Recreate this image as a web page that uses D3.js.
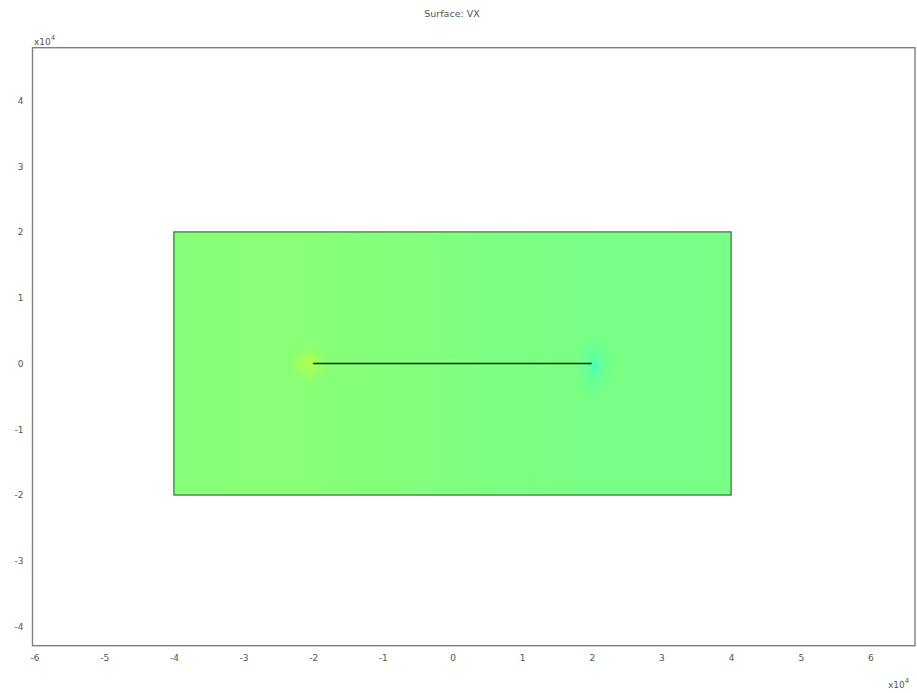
<!DOCTYPE html>
<html>
<head>
<meta charset="utf-8">
<script src="https://cdn.jsdelivr.net/npm/d3@7"></script>
<style>
  html, body { margin: 0; padding: 0; background: #fff; }
  svg { display: block; font-family: "DejaVu Sans", Verdana, sans-serif; }
</style>
</head>
<body>
<svg id="chart" width="917" height="693"></svg>
<script>
// Domaine du tracé (m)
const xDomain = [-60300, 66400];
const yDomain = [-42900, 48000];
const xTicks = [-6, -5, -4, -3, -2, -1, 0, 1, 2, 3, 4, 5, 6];
const yTicks = [-4, -3, -2, -1, 0, 1, 2, 3, 4];

// Géométrie : bloc rectangulaire et fissure
const blockX = [-40000, 40000];
const blockY = [-20000, 20000];
const crackX = [-20000, 20000];
const crackY = [0, 0];

// Valeurs VX normalisées (0..1 sur l'échelle jet), lues le long de x
const fieldX = [-40000, -30000, -20000, -10000, 0, 10000, 20000, 30000, 40000];
const fieldV = [0.507, 0.508, 0.508, 0.504, 0.5, 0.497, 0.494, 0.494, 0.495];

// Concentrations aux pointes de fissure
const tipX = [-20600, 20400];
const tipY = [0, -400];
const tipV = [0.56, 0.445];
const tipRx = [3300, 3000];
const tipRy = [3600, 5200];

const margin = { left: 32.5, right: 2, top: 47.7, bottom: 47.3 };
const W = 917, H = 693;

const svg = d3.select('#chart');
const x = d3.scaleLinear().domain(xDomain).range([margin.left, W - margin.right]);
const y = d3.scaleLinear().domain(yDomain).range([H - margin.bottom, margin.top]);

// Palette jet
const jet = d3.scaleLinear()
  .domain([0, 0.125, 0.375, 0.625, 0.875, 1])
  .range(['#000080', '#0000ff', '#00ffff', '#ffff00', '#ff0000', '#800000'])
  .interpolate(d3.interpolateRgb)
  .clamp(true);

const defs = svg.append('defs');

// Dégradé horizontal du champ
const lg = defs.append('linearGradient')
  .attr('id', 'field')
  .attr('gradientUnits', 'userSpaceOnUse')
  .attr('x1', x(blockX[0])).attr('x2', x(blockX[1]))
  .attr('y1', 0).attr('y2', 0);
lg.selectAll('stop')
  .data(fieldX.map((d, i) => ({ x: d, v: fieldV[i] })))
  .join('stop')
  .attr('offset', d => (d.x - blockX[0]) / (blockX[1] - blockX[0]))
  .attr('stop-color', d => jet(d.v));

const tips = tipX.map((d, i) => ({ x: d, y: tipY[i], v: tipV[i], rx: tipRx[i], ry: tipRy[i], i }));

tips.forEach(t => {
  const rg = defs.append('radialGradient').attr('id', 'tip' + t.i);
  rg.append('stop').attr('offset', 0).attr('stop-color', jet(t.v)).attr('stop-opacity', 0.9);
  rg.append('stop').attr('offset', 0.25).attr('stop-color', jet(t.v)).attr('stop-opacity', 0.5);
  rg.append('stop').attr('offset', 0.6).attr('stop-color', jet(t.v)).attr('stop-opacity', 0.16);
  rg.append('stop').attr('offset', 1).attr('stop-color', jet(t.v)).attr('stop-opacity', 0);
});

defs.append('clipPath').attr('id', 'blockClip')
  .append('rect')
  .attr('x', x(blockX[0])).attr('y', y(blockY[1]))
  .attr('width', x(blockX[1]) - x(blockX[0]))
  .attr('height', y(blockY[0]) - y(blockY[1]));

// Surface
const surf = svg.append('g').attr('clip-path', 'url(#blockClip)');
surf.append('rect')
  .attr('x', x(blockX[0])).attr('y', y(blockY[1]))
  .attr('width', x(blockX[1]) - x(blockX[0]))
  .attr('height', y(blockY[0]) - y(blockY[1]))
  .attr('fill', 'url(#field)');

surf.selectAll('ellipse.tip')
  .data(tips)
  .join('ellipse')
  .attr('class', 'tip')
  .attr('cx', d => x(d.x))
  .attr('cy', d => y(d.y))
  .attr('rx', d => x(d.rx) - x(0))
  .attr('ry', d => y(0) - y(d.ry))
  .attr('fill', d => 'url(#tip' + d.i + ')');

// Bord du bloc
svg.append('rect')
  .attr('x', x(blockX[0])).attr('y', y(blockY[1]))
  .attr('width', x(blockX[1]) - x(blockX[0]))
  .attr('height', y(blockY[0]) - y(blockY[1]))
  .attr('fill', 'none')
  .attr('stroke', '#3a6e3a')
  .attr('stroke-width', 1.2);

// Fissure
svg.append('line')
  .attr('x1', x(crackX[0])).attr('y1', y(crackY[0]))
  .attr('x2', x(crackX[1])).attr('y2', y(crackY[1]))
  .attr('stroke', '#0a2a0a')
  .attr('stroke-width', 1.6);

// Cadre des axes
svg.append('rect')
  .attr('x', margin.left).attr('y', margin.top)
  .attr('width', W - margin.right - margin.left)
  .attr('height', H - margin.bottom - margin.top)
  .attr('fill', 'none')
  .attr('stroke', '#808080')
  .attr('stroke-width', 1.4);

// Axes (étiquettes seulement)
const fmt = d => d3.format('d')(d / 1e4).replace('\u2212', '-');
const xAxis = d3.axisBottom(x)
  .tickValues(xTicks.map(d => d * 1e4))
  .tickFormat(fmt)
  .tickSize(0).tickPadding(9);
const yAxis = d3.axisLeft(y)
  .tickValues(yTicks.map(d => d * 1e4))
  .tickFormat(fmt)
  .tickSize(0).tickPadding(9);

svg.append('g').attr('transform', `translate(0,${H - margin.bottom})`).call(xAxis)
  .call(g => g.select('.domain').remove())
  .selectAll('text').attr('font-size', 9).attr('fill', '#555').attr('font-family', '"DejaVu Sans", sans-serif');
svg.append('g').attr('transform', `translate(${margin.left},0)`).call(yAxis)
  .call(g => g.select('.domain').remove())
  .selectAll('text').attr('font-size', 9).attr('fill', '#555').attr('font-family', '"DejaVu Sans", sans-serif');

// Facteurs d'échelle x10^4
function expLabel(px, py) {
  const t = svg.append('text').attr('x', px).attr('y', py)
    .attr('font-size', 9).attr('fill', '#555');
  t.append('tspan').text('x10');
  t.append('tspan').attr('dy', -5).attr('font-size', 7).text('4');
}
expLabel(34, 45);
expLabel(888, 688);

// Titre
svg.append('text')
  .attr('x', 452).attr('y', 17)
  .attr('text-anchor', 'middle')
  .attr('font-size', 9.5)
  .attr('fill', '#555')
  .text('Surface: VX');
</script>
</body>
</html>
